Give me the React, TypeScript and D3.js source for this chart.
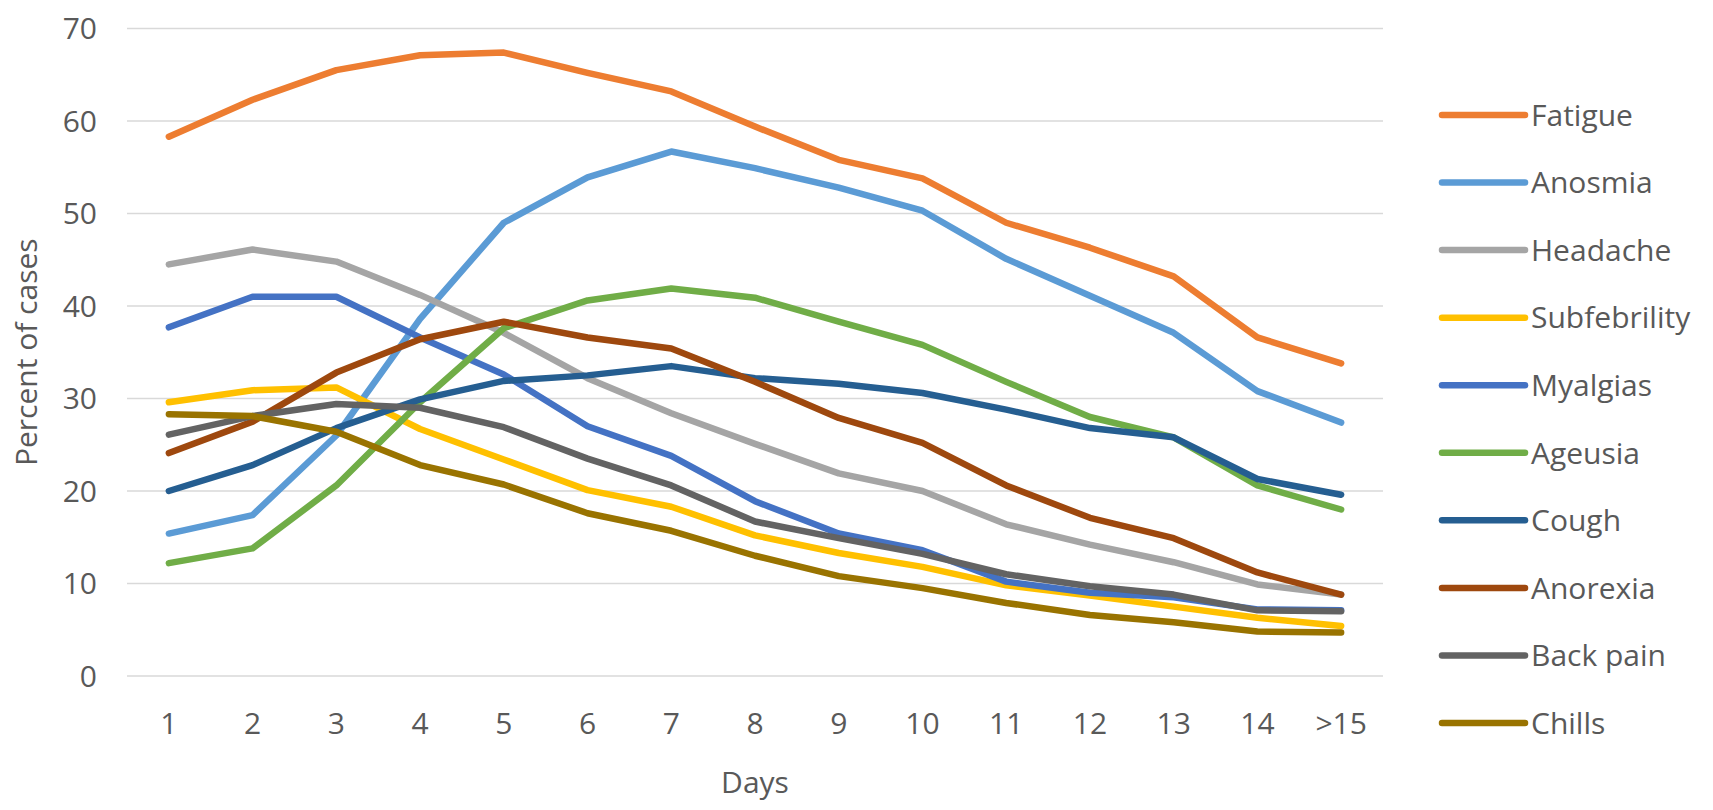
import React from "react";
import * as d3 from "d3";

const days = ["1", "2", "3", "4", "5", "6", "7", "8", "9", "10", "11", "12", "13", "14", ">15"];
const yTicks = [0, 10, 20, 30, 40, 50, 60, 70];

const fatigue = [58.3, 62.3, 65.5, 67.1, 67.4, 65.2, 63.2, 59.4, 55.8, 53.8, 49.0, 46.3, 43.2, 36.6, 33.8];
const anosmia = [15.4, 17.4, 26.0, 38.6, 49.0, 53.9, 56.7, 54.9, 52.8, 50.3, 45.1, 41.1, 37.1, 30.8, 27.4];
const headache = [44.5, 46.1, 44.8, 41.2, 37.1, 32.2, 28.4, 25.1, 21.9, 20.0, 16.4, 14.2, 12.3, 9.9, 8.8];
const subfebrility = [29.6, 30.9, 31.2, 26.7, 23.4, 20.1, 18.3, 15.2, 13.3, 11.8, 9.8, 8.7, 7.5, 6.3, 5.4];
const myalgias = [37.7, 41.0, 41.0, 36.6, 32.6, 27.0, 23.8, 18.9, 15.4, 13.6, 10.2, 9.0, 8.5, 7.2, 7.1];
const ageusia = [12.2, 13.8, 20.6, 29.6, 37.6, 40.6, 41.9, 40.9, 38.3, 35.8, 31.8, 28.0, 25.8, 20.6, 18.0];
const cough = [20.0, 22.8, 26.8, 29.9, 31.9, 32.5, 33.5, 32.2, 31.6, 30.6, 28.8, 26.8, 25.8, 21.3, 19.6];
const anorexia = [24.1, 27.5, 32.8, 36.4, 38.3, 36.6, 35.4, 31.8, 27.9, 25.2, 20.6, 17.1, 14.9, 11.2, 8.8];
const backPain = [26.1, 28.1, 29.4, 29.0, 26.9, 23.5, 20.6, 16.7, 14.9, 13.2, 11.0, 9.7, 8.8, 7.1, 7.0];
const chills = [28.3, 28.1, 26.4, 22.8, 20.7, 17.6, 15.7, 13.0, 10.8, 9.5, 7.9, 6.6, 5.8, 4.8, 4.7];

const seriesNames = ["Fatigue", "Anosmia", "Headache", "Subfebrility", "Myalgias", "Ageusia", "Cough", "Anorexia", "Back pain", "Chills"];
const seriesValues = [fatigue, anosmia, headache, subfebrility, myalgias, ageusia, cough, anorexia, backPain, chills];
const seriesColors = ["#ED7D31", "#5B9BD5", "#A5A5A5", "#FFC000", "#4472C4", "#70AD47", "#255E91", "#9E480E", "#636363", "#997300"];

const W = 1713;
const H = 810;
const FONT = "'Open Sans', sans-serif";
const TEXT = "#595959";

export default function App() {
  const x = d3.scaleBand<string>().domain(days).range([127, 1383]);
  const y = d3.scaleLinear().domain([0, 70]).range([676, 28.5]);
  const cx = (d: string) => (x(d) as number) + x.bandwidth() / 2;
  const line = d3
    .line<number>()
    .x((_, i) => cx(days[i]))
    .y((v) => y(v))
    .curve(d3.curveLinear);

  const legendY = d3.scalePoint<string>().domain(seriesNames).range([115, 723]);

  return (
    <div style={{ margin: -8 }}>
      <svg width={W} height={H} style={{ display: "block", background: "#fff" }}>
        <rect width={W} height={H} fill="#fff" />
        {yTicks.map((t) => (
          <g key={t}>
            <line x1={127} x2={1383} y1={y(t)} y2={y(t)} stroke="#d9d9d9" strokeWidth={1.6} />
            <text x={97} y={y(t)} dy="0.36em" textAnchor="end" fontFamily={FONT} fontSize={30} fill={TEXT}>
              {t}
            </text>
          </g>
        ))}
        {days.map((d) => (
          <text key={d} x={cx(d)} y={723} dy="0.36em" textAnchor="middle" fontFamily={FONT} fontSize={30} fill={TEXT}>
            {d}
          </text>
        ))}
        <text
          transform={`translate(26, ${(y(0) + y(70)) / 2}) rotate(-90)`}
          textAnchor="middle"
          dy="0.36em"
          fontFamily={FONT}
          fontSize={30}
          fill={TEXT}
        >
          Percent of cases
        </text>
        <text x={(127 + 1383) / 2} y={782} dy="0.36em" textAnchor="middle" fontFamily={FONT} fontSize={30} fill={TEXT}>
          Days
        </text>
        {seriesValues.map((vals, i) => (
          <path
            key={seriesNames[i]}
            d={line(vals) as string}
            fill="none"
            stroke={seriesColors[i]}
            strokeWidth={6.5}
            strokeLinejoin="round"
            strokeLinecap="round"
          />
        ))}
        {seriesNames.map((name, i) => {
          const ly = legendY(name) as number;
          return (
            <g key={name}>
              <line x1={1442} x2={1525} y1={ly} y2={ly} stroke={seriesColors[i]} strokeWidth={6.5} strokeLinecap="round" />
              <text x={1531} y={ly} dy="0.36em" fontFamily={FONT} fontSize={30} fill={TEXT}>
                {name}
              </text>
            </g>
          );
        })}
      </svg>
    </div>
  );
}
